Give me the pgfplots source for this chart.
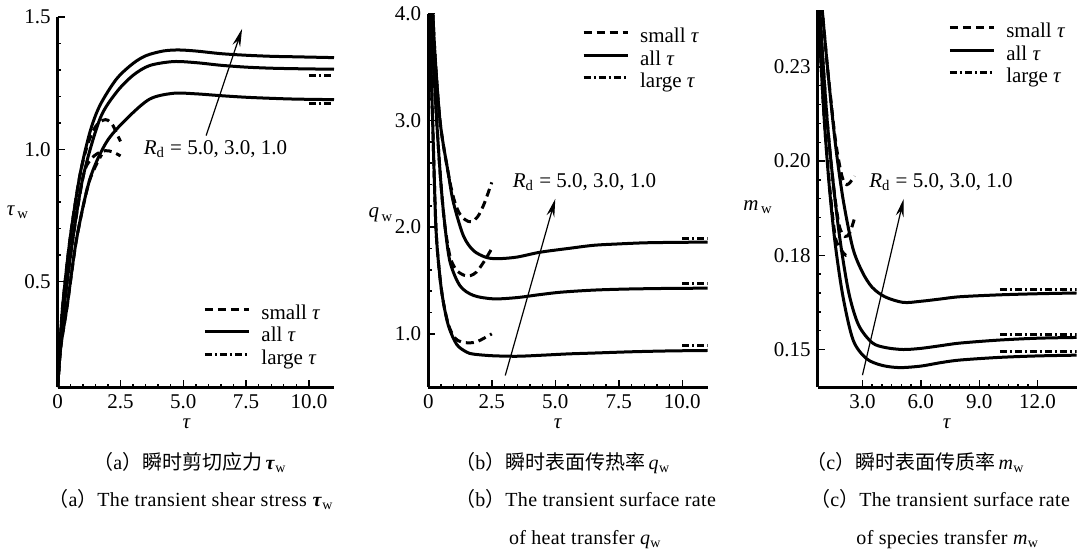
\documentclass[border=0pt]{standalone}
\usepackage{fontspec}
\setmainfont{Liberation Serif}
\newfontfamily\cjk{Noto Sans CJK SC}
\newfontfamily\capfont[LetterSpace=1.8]{Liberation Serif}
\usepackage{pgfplots}
\pgfplotsset{compat=1.18}
\usetikzlibrary{arrows.meta}

\pgfplotsset{
  myax/.style={
    scale only axis,
    axis x line=bottom, axis y line=left,
    axis line style={-, line width=1.5pt},
    tick align=inside,
    major tick length=3.5pt, minor tick length=1.8pt,
    every tick/.style={black, line width=0.7pt},
    tick label style={font=\fontsize{10.5}{12}\selectfont},
    /pgf/number format/assume math mode=true,
    legend style={draw=none, fill=none, font=\fontsize{10.5}{12}\selectfont,
      inner sep=0pt, row sep=1.25pt, column sep=5.5pt,
      nodes={inner sep=0pt, text height=7.5pt, text depth=2.5pt}},
    legend cell align=left,
    legend image code/.code={\draw[#1] (0pt,2.5pt) -- (22pt,2.5pt);},
  },
  solidc/.style={black, line width=1.5pt, smooth},
  dashc/.style={black, line width=1.5pt, dash pattern=on 4pt off 2.5pt, smooth},
  ddc/.style={black, line width=1.5pt, dash pattern=on 3.5pt off 1.5pt on 1pt off 1.5pt},
}

\begin{document}
\begin{tikzpicture}
\path (0,0) rectangle (543pt,273.5pt);

% ---------------- (a) ----------------
\begin{axis}[myax, at={(28.85pt,81pt)}, anchor=south west,
  width=138.15pt, height=185pt,
  xmin=0, xmax=11, ymin=0.1, ymax=1.5,
  xtick={0,2.5,5,7.5,10}, xticklabels={0,2.5,5.0,7.5,10.0},
  ytick={0.5,1.0,1.5}, yticklabels={0.5,1.0,1.5},
  minor x tick num=4, minor y tick num=4,
  legend style={at={(0.526,0.225)}, anchor=north west}]
\addlegendimage{dashc}\addlegendentry{small \textit{τ}}
\addlegendimage{solidc}\addlegendentry{all \textit{τ}}
\addlegendimage{ddc}\addlegendentry{large \textit{τ}}
% all tau
\addplot[solidc] coordinates {(0,0.1)(0.08,0.24)(0.2,0.41)(0.49,0.66)(0.88,0.90)(1.28,1.064)(1.68,1.166)(2.34,1.266)(3.0,1.325)(3.53,1.355)(4.2,1.372)(4.8,1.376)(5.5,1.372)(6.5,1.362)(7.5,1.356)(8.5,1.352)(9.5,1.35)(11,1.347)};
\addplot[solidc] coordinates {(0,0.1)(0.1,0.24)(0.29,0.43)(0.6,0.66)(1.02,0.90)(1.68,1.115)(2.34,1.216)(3.0,1.28)(3.66,1.317)(4.6,1.332)(5.5,1.328)(6.5,1.318)(7.5,1.311)(8.5,1.307)(9.5,1.305)(11,1.303)};
\addplot[solidc] coordinates {(0,0.1)(0.12,0.25)(0.38,0.41)(0.75,0.66)(1.28,0.887)(1.94,1.027)(2.74,1.115)(3.66,1.19)(4.6,1.212)(5.5,1.21)(6.5,1.203)(7.5,1.197)(8.5,1.193)(9.5,1.19)(11,1.188)};
% small tau
\addplot[dashc] coordinates {(0,0.1)(0.08,0.24)(0.2,0.41)(0.49,0.66)(0.88,0.9)(1.2,1.02)(1.5,1.085)(1.8,1.11)(2.0,1.11)(2.2,1.09)(2.4,1.05)(2.5,1.03)};
\addplot[dashc] coordinates {(0,0.1)(0.1,0.24)(0.29,0.43)(0.6,0.66)(1.02,0.9)(1.3,0.96)(1.6,0.985)(1.9,0.995)(2.2,0.99)(2.5,0.975)};
\addplot[dashc] coordinates {(0,0.1)(0.12,0.25)(0.38,0.41)(0.75,0.66)(1.2,0.86)(1.5,0.935)(1.75,0.98)};
% large tau
\addplot[ddc] coordinates {(10.0,1.279)(10.9,1.279)};
\addplot[ddc] coordinates {(10.0,1.172)(10.9,1.172)};
\draw[line width=0.6pt, -{Stealth[length=9pt,width=4pt]}] (axis cs:5.91,1.052) -- (axis cs:7.34,1.456);
\node[font=\fontsize{10.5}{12}\selectfont] at (axis cs:6.28,1.0) {\textit{R}\textsubscript{d} = 5.0, 3.0, 1.0};
\end{axis}

% ---------------- (b) ----------------
\begin{axis}[myax, at={(214.15pt,81pt)}, anchor=south west,
  width=139.7pt, height=186.7pt,
  xmin=0, xmax=11, ymin=0.5, ymax=4.0,
  xtick={0,2.5,5,7.5,10}, xticklabels={0,2.5,5.0,7.5,10.0},
  ytick={1,2,3,4}, yticklabels={1.0,2.0,3.0,4.0},
  minor x tick num=4, minor y tick num=4,
  legend style={at={(0.549,0.964)}, anchor=north west}]
\addlegendimage{dashc}\addlegendentry{small \textit{τ}}
\addlegendimage{solidc}\addlegendentry{all \textit{τ}}
\addlegendimage{ddc}\addlegendentry{large \textit{τ}}
\addplot[solidc] coordinates {(0.1,4.6)(0.22,3.8)(0.46,3.0)(0.79,2.5)(0.99,2.23)(1.38,1.92)(1.78,1.78)(2.3,1.715)(2.8,1.705)(3.5,1.72)(4.4,1.765)(5.5,1.80)(6.51,1.83)(7.5,1.843)(8.48,1.853)(9.5,1.857)(11,1.86)};
\addplot[solidc] coordinates {(0.07,4.6)(0.15,3.8)(0.33,3.0)(0.5,2.4)(0.66,2.0)(0.86,1.67)(1.25,1.45)(1.78,1.36)(2.57,1.328)(3.5,1.34)(4.3,1.365)(5.2,1.39)(6.5,1.41)(7.83,1.42)(9.5,1.426)(11,1.428)};
\addplot[solidc] coordinates {(0.05,4.6)(0.1,3.6)(0.17,3.0)(0.3,2.0)(0.45,1.55)(0.59,1.3)(0.8,1.07)(1.12,0.9)(1.5,0.83)(1.78,0.81)(2.5,0.795)(3.49,0.79)(4.5,0.80)(5.5,0.812)(6.51,0.82)(8,0.832)(9.5,0.84)(11,0.844)};
\addplot[dashc] coordinates {(0.1,4.6)(0.22,3.8)(0.46,3.0)(0.79,2.5)(1.0,2.27)(1.2,2.14)(1.45,2.07)(1.7,2.05)(1.95,2.1)(2.2,2.22)(2.5,2.42)};
\addplot[dashc] coordinates {(0.07,4.6)(0.15,3.8)(0.33,3.0)(0.5,2.4)(0.66,2.0)(0.86,1.72)(1.1,1.6)(1.4,1.55)(1.65,1.545)(1.9,1.58)(2.2,1.68)(2.5,1.8)};
\addplot[dashc] coordinates {(0.05,4.6)(0.1,3.6)(0.17,3.0)(0.3,2.0)(0.45,1.55)(0.59,1.3)(0.8,1.08)(1.05,0.96)(1.3,0.925)(1.6,0.915)(1.9,0.925)(2.2,0.96)(2.5,1.0)};
\addplot[ddc] coordinates {(10.0,1.89)(11.0,1.89)};
\addplot[ddc] coordinates {(10.0,1.469)(11.0,1.469)};
\addplot[ddc] coordinates {(10.0,0.89)(11.0,0.89)};
\draw[line width=0.6pt, -{Stealth[length=9pt,width=4pt]}] (axis cs:3.03,0.61) -- (axis cs:5.0,2.265);
\node[font=\fontsize{10.5}{12}\selectfont] at (axis cs:6.15,2.42) {\textit{R}\textsubscript{d} = 5.0, 3.0, 1.0};
\end{axis}

% ---------------- (c) ----------------
\begin{axis}[myax, at={(408.85pt,81pt)}, anchor=south west,
  width=129.4pt, height=188.4pt,
  xmin=0.7, xmax=14, ymin=0.14, ymax=0.24,
  xtick={3,6,9,12}, xticklabels={3.0,6.0,9.0,12.0},
  ytick={0.15,0.175,0.2,0.225}, yticklabels={0.15,0.18,0.20,0.23},
  minor x tick num=5, minor y tick num=4,
  legend style={at={(0.503,0.968)}, anchor=north west}]
\addlegendimage{dashc}\addlegendentry{small \textit{τ}}
\addlegendimage{solidc}\addlegendentry{all \textit{τ}}
\addlegendimage{ddc}\addlegendentry{large \textit{τ}}
\addplot[solidc] coordinates {(0.85,0.245)(1.2,0.225)(1.6,0.205)(2.0,0.19)(2.5,0.177)(3.0,0.1705)(3.5,0.1665)(4.15,0.164)(5.09,0.1625)(6.0,0.1628)(7,0.1634)(8,0.164)(10,0.1645)(12,0.1648)(14,0.165)};
\addplot[solidc] coordinates {(0.75,0.245)(0.95,0.228)(1.2,0.21)(1.5,0.194)(1.85,0.179)(2.3,0.165)(2.8,0.1565)(3.5,0.1518)(4.2,0.1505)(5.1,0.150)(6,0.1503)(7,0.151)(8,0.1517)(10,0.1525)(12,0.153)(14,0.1532)};
\addplot[solidc] coordinates {(0.7,0.245)(0.85,0.228)(1.05,0.21)(1.3,0.193)(1.6,0.178)(2.0,0.164)(2.52,0.1525)(3.2,0.1476)(4,0.1458)(4.9,0.1452)(6,0.1456)(7,0.1465)(8,0.1472)(10,0.1479)(12,0.1483)(14,0.1485)};
\addplot[dashc] coordinates {(0.85,0.245)(1.2,0.225)(1.6,0.206)(1.9,0.197)(2.1,0.194)(2.3,0.194)(2.6,0.196)};
\addplot[dashc] coordinates {(0.75,0.245)(0.95,0.228)(1.2,0.21)(1.5,0.194)(1.8,0.183)(2.1,0.18)(2.35,0.181)(2.6,0.185)};
\addplot[dashc] coordinates {(0.7,0.245)(0.85,0.228)(1.05,0.21)(1.3,0.194)(1.6,0.18)(1.9,0.1765)(2.15,0.175)(2.35,0.1755)};
\addplot[ddc] coordinates {(10.06,0.1659)(14,0.1659)};
\addplot[ddc] coordinates {(10.06,0.154)(14,0.154)};
\addplot[ddc] coordinates {(10.06,0.1494)(14,0.1494)};
\draw[line width=0.6pt, -{Stealth[length=9pt,width=4pt]}] (axis cs:3.0,0.1432) -- (axis cs:5.12,0.190);
\node[font=\fontsize{10.5}{12}\selectfont] at (axis cs:7.03,0.1945) {\textit{R}\textsubscript{d} = 5.0, 3.0, 1.0};
\end{axis}

% axis labels
\begin{scope}[every node/.style={font=\fontsize{10.5}{12}\selectfont}]
\node at (9pt,168.5pt) {\textit{τ}\textsubscript{\,w}};
\node at (190.5pt,167pt) {\textit{q}\textsubscript{\,w}};
\node at (379pt,171pt) {\textit{m}\textsubscript{\,w}};
\node at (93.3pt,62.5pt) {\textit{τ}};
\node at (279pt,62.5pt) {\textit{τ}};
\node at (473.5pt,62.5pt) {\textit{τ}};
\end{scope}

% captions
\begin{scope}[every node/.style={font=\capfont\fontsize{10}{11}\selectfont, inner sep=0pt}]
\node[anchor=base] at (95pt,40pt) {{\cjk （}a{\cjk ）瞬时剪切应力}\,\textbf{\textit{τ}}\textsubscript{w}};
\node[anchor=base] at (95.5pt,21.5pt) {{\cjk （}a{\cjk ）}The transient shear stress \textbf{\textit{τ}}\textsubscript{w}};
\node[anchor=base west] at (227.5pt,40pt) {{\cjk （}b{\cjk ）瞬时表面传热率}\,\textit{q}\textsubscript{w}};
\node[anchor=base west] at (227.5pt,21.5pt) {{\cjk （}b{\cjk ）}The transient surface rate};
\node[anchor=base west] at (254.3pt,2.5pt) {of heat transfer \textit{q}\textsubscript{w}};
\node[anchor=base west] at (403pt,40pt) {{\cjk （}c{\cjk ）瞬时表面传质率}\,\textit{m}\textsubscript{w}};
\node[anchor=base west] at (405pt,21.5pt) {{\cjk （}c{\cjk ）}The transient surface rate};
\node[anchor=base west] at (428pt,2.5pt) {of species transfer \textit{m}\textsubscript{w}};
\end{scope}
\end{tikzpicture}
\end{document}
